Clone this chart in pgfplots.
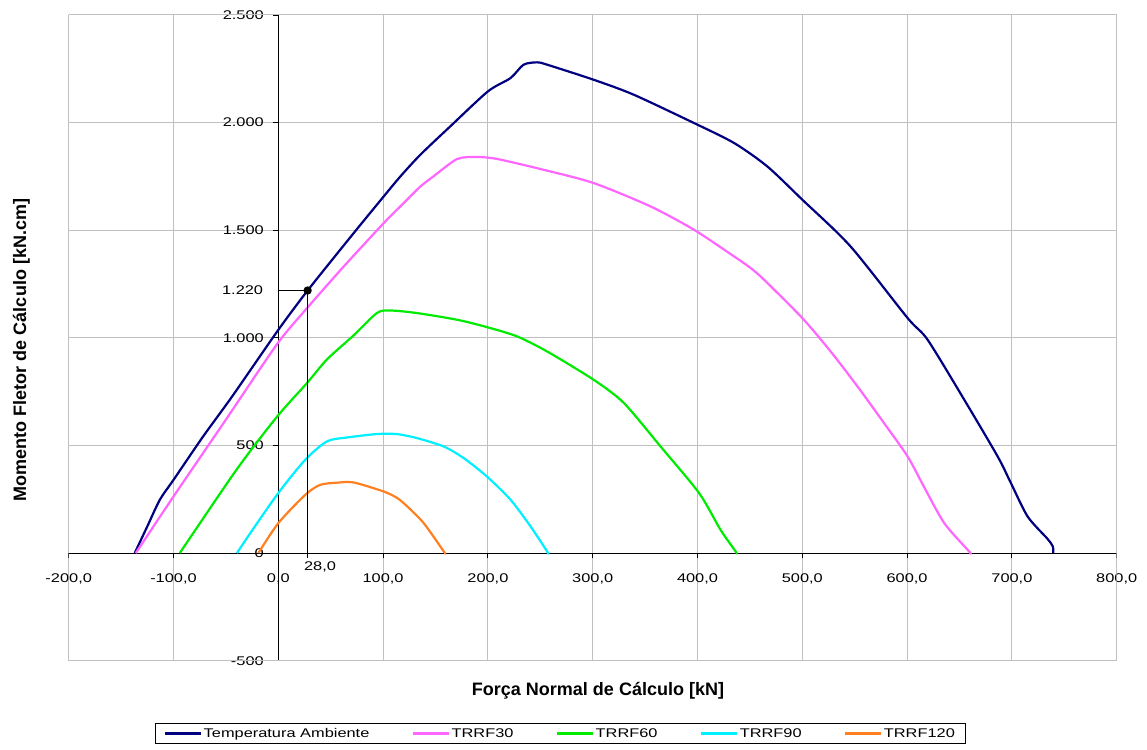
\documentclass[border=0pt]{standalone}
\usepackage{fontspec}
\setmainfont{Liberation Sans}
\newfontfamily\wfont{Liberation Sans}[FakeStretch=1.3]
\usepackage{pgfplots}
\pgfplotsset{compat=1.18}
\definecolor{cnavy}{RGB}{0,0,128}
\definecolor{cpink}{RGB}{255,102,255}
\definecolor{cgreen}{RGB}{0,235,0}
\definecolor{ccyan}{RGB}{0,240,255}
\definecolor{corange}{RGB}{255,128,32}
\definecolor{cgrid}{RGB}{192,192,192}
\newcommand{\tfont}{\wfont\fontsize{12.6}{14}\selectfont}
\begin{document}
\begin{tikzpicture}[x=1pt,y=1pt]
\path[use as bounding box] (0,0) rectangle (1147,749);
\begin{axis}[
  at={(68.7pt,88.3pt)}, anchor=south west,
  scale only axis, width=1048pt, height=645.7pt,
  xmin=-200, xmax=800, ymin=-500, ymax=2500,
  axis lines=middle,
  axis line style={-, black, line width=0.8pt},
  hide obscured x ticks=false, hide obscured y ticks=false,
  xtick={-200,-100,...,800},
  ytick={-500,0,...,2500},
  tick align=outside,
  major tick length=5pt,
  tick style={black, line width=0.8pt},
  grid=major,
  major grid style={cgrid, line width=1pt},
  /pgf/number format/assume math mode=true,
  x tick label style={font=\tfont, yshift=-12pt,
     /pgf/number format/fixed, /pgf/number format/fixed zerofill,
     /pgf/number format/precision=1, /pgf/number format/use comma,
     /pgf/number format/1000 sep={}},
  y tick label style={font=\tfont, xshift=-6pt,
     /pgf/number format/fixed, /pgf/number format/precision=0,
     /pgf/number format/1000 sep={.}},
  legend style={at={(0.469,-0.1127)}, anchor=center, draw=black, line width=0.6pt,
     font=\tfont, inner xsep=8pt, inner ysep=3pt,
     /tikz/every even column/.append style={column sep=40pt}},
  legend columns=-1,
  legend image code/.code={\draw[#1, line width=2.2pt] (0pt,0pt) -- (36pt,0pt);},
  every axis plot/.append style={line width=2.2pt, line join=round, smooth, tension=0.45},
]
\draw[cgrid, line width=1pt] (rel axis cs:0,0) rectangle (rel axis cs:1,1);

\addplot[cnavy, mark=none, line width=2.2pt] coordinates {
(-137,0) (-125,124) (-113,248) (-100,340) (-72,540) (-44,728) (-1,1030) (28,1220) (72,1487)
(100.6,1657) (116.5,1750) (135.6,1851) (164,1982) (200,2145) (221.6,2207) (234,2269)
(247,2280) (256.6,2269) (301,2199) (339,2130) (396.7,1998) (435,1905) (466.7,1796)
(500,1642) (546,1425) (600.5,1092) (619.6,991) (654.6,712) (686.4,449) (699,326)
(715,170) (734,66) (739,31) (739.5,0)};
\addlegendentry{Temperatura Ambiente}

\addplot[cpink, mark=none, line width=2.2pt] coordinates {
(-136,0) (-100,263) (-50,620) (-1,972) (27.4,1138) (64,1340) (100.6,1533) (116.5,1611) (135.6,1703)
(148,1750) (170.7,1831) (189.8,1840) (209,1831) (253,1781) (301,1719) (355,1611)
(396.7,1502) (435,1378) (450.8,1324) (463.5,1270) (500,1092) (527,937) (552.7,774)
(578,604) (600.5,449) (616,309) (635.5,139) (659.3,7) (660,0)};
\addlegendentry{TRRF30}

\addplot[cgreen, mark=none, line width=2.2pt] coordinates {
(-94,0) (-39.5,390) (-1,635) (27.4,790) (46.5,900) (72,1012) (94,1115) (107,1127)
(132.5,1115) (170.7,1084) (199,1050) (227.7,1007) (256.4,937) (301,805) (329.8,697)
(364.8,495) (401.5,279) (422,108) (436.5,7) (437,0)};
\addlegendentry{TRRF60}

\addplot[ccyan, mark=none, line width=2.2pt] coordinates {
(-39.5,0) (-26.7,93) (0,279) (25.8,434) (46.5,519) (65.6,537) (94,553) (113,553)
(132.5,534) (158,495) (177,441) (199,356) (221.6,248) (240.7,124) (256.6,7) (257,0)};
\addlegendentry{TRRF90}

\addplot[corange, mark=none, line width=2.2pt] coordinates {
(-19,0) (0,139) (25.8,271) (40,317) (56,327) (72,328) (100.6,286) (113.4,256)
(123,217) (138.8,139) (158,7) (159,0)};
\addlegendentry{TRRF120}

\addplot[black, line width=0.8pt, mark=none, sharp plot, forget plot] coordinates {(0,1220) (28,1220) (28,-23)};
\addplot[black, only marks, mark=*, mark size=3pt, forget plot] coordinates {(28,1220)};

\node[anchor=east, inner sep=0pt, font=\tfont] at (axis cs:0,1220) [xshift=-15pt] {1.220};
\node[anchor=north west, inner sep=0pt, font=\tfont] at (axis cs:28,0) [xshift=-3.7pt, yshift=-8.4pt] {28,0};
\end{axis}
\node[anchor=base, font=\bfseries\fontsize{18}{20}\selectfont] at (598,54) {Força Normal de Cálculo [kN]};
\node[anchor=base, rotate=90, font=\bfseries\fontsize{18}{20}\selectfont] at (26,399) {Momento Fletor de Cálculo [kN.cm]};
\end{tikzpicture}
\end{document}
